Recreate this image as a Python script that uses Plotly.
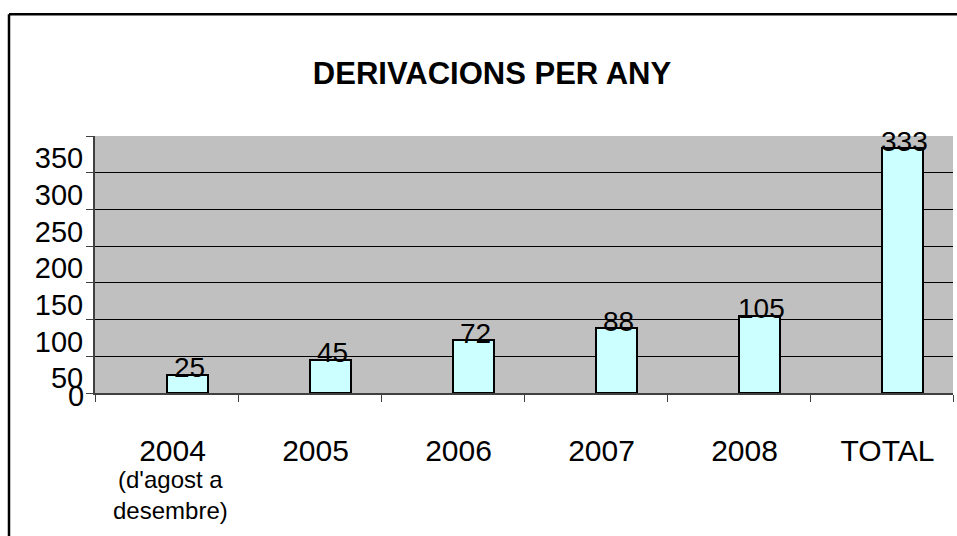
import plotly.graph_objects as go

categories = ["2004", "2005", "2006", "2007", "2008", "TOTAL"]
values = [25, 45, 72, 88, 105, 333]
sub_label_category = "2004"
sub_label_text = "(d'agost a<br>desembre)"
y_tick_labels = ["0", "50", "100", "150", "200", "250", "300", "350"]
title_text = "DERIVACIONS PER ANY"

y_tick_values = [int(t) for t in y_tick_labels]
FONT = "Liberation Sans, Arial, sans-serif"

fig = go.Figure()
fig.add_trace(go.Bar(
    x=categories, y=values, width=0.29, offset=0.0,
    marker=dict(color="#CCFFFF", line=dict(color="#000000", width=2)),
    showlegend=False, hoverinfo="skip",
))
# invisible helper traces so the label axes are drawn
fig.add_trace(go.Scatter(x=categories[:1], y=values[:1], yaxis="y2", mode="markers",
                         marker=dict(opacity=0), showlegend=False, hoverinfo="skip"))
fig.add_trace(go.Scatter(x=categories[:1], y=values[:1], yaxis="y3", mode="markers",
                         marker=dict(opacity=0), showlegend=False, hoverinfo="skip"))

annotations = []
for i, v in enumerate(values):
    annotations.append(dict(
        x=i, y=v, xref="x", yref="y", text=str(v), showarrow=False,
        xshift=23, yshift=7, yanchor="middle", xanchor="center",
        font=dict(family=FONT, size=28, color="#000000"),
    ))
annotations.append(dict(
    x=categories.index(sub_label_category), y=0, xref="x", yref="paper", text=sub_label_text,
    showarrow=False, xanchor="center", yanchor="top", yshift=-71, xshift=4,
    font=dict(family=FONT, size=24, color="#000000"),
))

# chart-area frame (decoration)
L, T, B = 95, 136, 536 - 143.3
W, H = 957 - 95 - 4, (536 - 143.3) - 136
def px(xp):
    return (xp - L) / W
def py(yp):
    return (B - yp) / H

shapes = [
    dict(type="line", xref="paper", yref="paper", x0=px(9), x1=px(960), y0=py(14.5), y1=py(14.5),
         line=dict(color="#000000", width=2.5)),
    dict(type="line", xref="paper", yref="paper", x0=px(9), x1=px(9), y0=py(14.5), y1=py(540),
         line=dict(color="#000000", width=2.5)),
]

fig.update_layout(
    width=957, height=536,
    margin=dict(l=95, r=4, t=136, b=143.3),
    paper_bgcolor="#FFFFFF", plot_bgcolor="#C0C0C0",
    font=dict(family=FONT, color="#000000"),
    title=dict(text="<b>" + title_text + "</b>", x=px(492), xref="paper", xanchor="center",
               y=1 - 73 / 536, yref="container", yanchor="middle",
               font=dict(family=FONT, size=31, color="#000000")),
    annotations=annotations,
    shapes=shapes,
    bargap=0.0,
    xaxis=dict(
        type="category", categoryorder="array", categoryarray=categories,
        range=[-0.5, len(categories) - 0.5],
        tickson="boundaries", ticks="outside", ticklen=7, tickcolor="#404040", tickwidth=1,
        showline=True, linecolor="#404040", linewidth=1.5,
        showgrid=False, tickfont=dict(family=FONT, size=30, color="#000000"),
        ticklabelstandoff=30, ticklabelshift=6,
    ),
    yaxis=dict(
        range=[0, y_tick_values[-1]], tickmode="array", tickvals=y_tick_values[:-1],
        showticklabels=False, ticks="",
        showgrid=True, gridcolor="#000000", gridwidth=1, zeroline=False,
        showline=True, linecolor="#404040", linewidth=1.5,
    ),
    yaxis2=dict(
        overlaying="y", side="left", anchor="x", range=[0, y_tick_values[-1]],
        tickmode="array", tickvals=y_tick_values[1:], ticktext=y_tick_labels[1:],
        ticks="outside", ticklen=8, tickcolor="#404040", tickwidth=1,
        showgrid=False, zeroline=False, showline=False,
        ticklabelshift=22, ticklabelstandoff=-3,
        tickfont=dict(family=FONT, size=29, color="#000000"),
    ),
    yaxis3=dict(
        overlaying="y", side="left", anchor="x", range=[0, y_tick_values[-1]],
        tickmode="array", tickvals=y_tick_values[:1], ticktext=y_tick_labels[:1],
        ticks="outside", ticklen=8, tickcolor="#404040", tickwidth=1,
        showgrid=False, zeroline=False, showline=False,
        ticklabelshift=3, ticklabelstandoff=-4,
        tickfont=dict(family=FONT, size=29, color="#000000"),
    ),
)
fig.write_html("out.html", config={"displayModeBar": False},
               post_script="document.body.style.margin='0';")
